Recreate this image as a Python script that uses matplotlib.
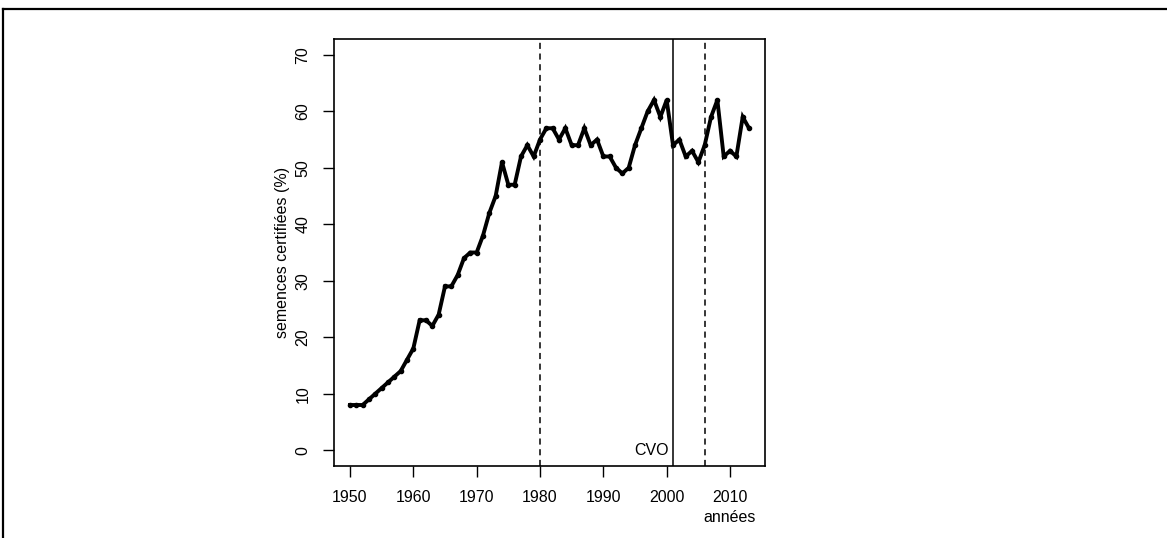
import matplotlib
matplotlib.use("Agg")
import matplotlib.pyplot as plt
from matplotlib.lines import Line2D

plt.rcParams["font.family"] = ["Liberation Sans", "DejaVu Sans"]

years = list(range(1950, 2014))
values = [
    8, 8, 8, 9, 10, 11, 12, 13, 14, 16,
    18, 23, 23, 22, 24, 29, 29, 31, 34, 35,
    35, 38, 42, 45, 51, 47, 47, 52, 54, 52,
    55, 57, 57, 55, 57, 54, 54, 57, 54, 55,
    52, 52, 50, 49, 50, 54, 57, 60, 62, 59,
    62, 54, 55, 52, 53, 51, 54, 59, 62, 52,
    53, 52, 59, 57,
]
dashed_years = [1980, 2006]
solid_year = 2001
x_ticks = [1950, 1960, 1970, 1980, 1990, 2000, 2010]
y_ticks = [0, 10, 20, 30, 40, 50, 60, 70]

W, H = 1167, 538
fig = plt.figure(figsize=(W / 100, H / 100), dpi=100)
fig.patch.set_facecolor("white")

# cropped outer frame (top and left edges only)
fig.add_artist(Line2D([3 / W, 1], [1 - 9 / H, 1 - 9 / H], color="black", lw=1.6))
fig.add_artist(Line2D([3 / W, 3 / W], [0, 1 - 9 / H], color="black", lw=1.6))

ax = fig.add_axes([334 / W, 1 - 466 / H, (765 - 334) / W, (466 - 39) / H])
ax.set_xlim(1947.48, 2015.52)
ax.set_ylim(-2.8, 72.8)

for yr in dashed_years:
    ax.axvline(yr, color="black", lw=1.1, ls=(0, (4, 3)))
ax.axvline(solid_year, color="black", lw=1.1)

ax.plot(years, values, color="black", lw=2.8, marker="o", ms=3.0, solid_joinstyle="miter")

ax.text(solid_year - 0.6, 0, "CVO", ha="right", va="center", fontsize=11.5)

ax.set_xticks(x_ticks)
ax.set_yticks(y_ticks)
ax.set_yticklabels([str(v) for v in y_ticks], rotation=90, va="center")
ax.tick_params(axis="both", direction="out", length=8, width=1.0, labelsize=11.5, pad=9, colors="black")
for s in ax.spines.values():
    s.set_linewidth(1.2)

ax.set_ylabel("semences certifiées (%)", fontsize=11.5, labelpad=4)
ax.text(2010, -12.0, "années", ha="center", va="center", fontsize=11.5, clip_on=False)

fig.savefig("out.png", dpi=100, facecolor="white")
